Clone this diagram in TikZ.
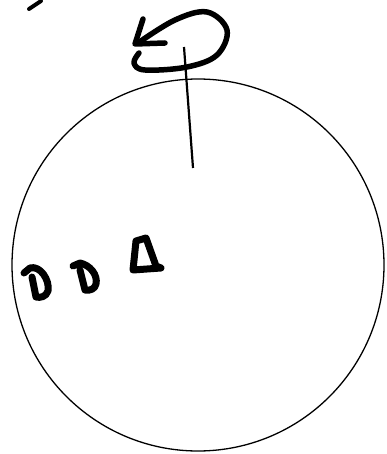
\documentclass[tikz,border=0pt]{standalone}
\usepackage{tikz}
\usetikzlibrary{calc}

\begin{document}
\begin{tikzpicture}[x=1pt,y=-1pt]
        % sketch in pixel units, y downwards
        % O - centre of the ball, R=186
        \useasboundingbox (0,0) rectangle (386,454);

        \coordinate (O) at (198,265);
        \coordinate (T) at (184,47);
        \coordinate (S) at (193,168);

        \draw[line width=1.3pt] (O) circle[radius=186pt];

        % axis
        \draw[line width=2.2pt] (T) -- (S);

        % rotation arrow
        \draw[line width=5.5pt,line cap=round,line join=round]
            plot[smooth,tension=0.6] coordinates {(139,53) (134,63) (145,70) (187,67) (217,55) (227,30) (207,12) (175,20) (138,43)};
        \draw[line width=5.5pt,line cap=round,line join=round]
            (143,19) -- (135,44) -- (165,43);

        % stroke in the corner
        \draw[line width=4pt,line cap=round] (29,9) -- (41,1);

        % three marks on the left
        \draw[line width=7pt,line join=round,line cap=round]
            (24,273) -- (30,268) .. controls (40,265) and (50,280) .. (48,291)
            .. controls (46,297) and (40,298) .. (36,297) -- (32,277);
        \draw[line width=7pt,line join=round,line cap=round]
            (73,266) -- (80,263) .. controls (90,265) and (98,275) .. (96,284)
            .. controls (95,289) and (90,291) .. (85,290) -- (80,270);
        \draw[line width=7pt,line join=round,line cap=round]
            (133,270) -- (136,241) -- (146,238) -- (156,266) -- (161,268) -- (133,270) -- cycle;
    \end{tikzpicture}
\end{document}
